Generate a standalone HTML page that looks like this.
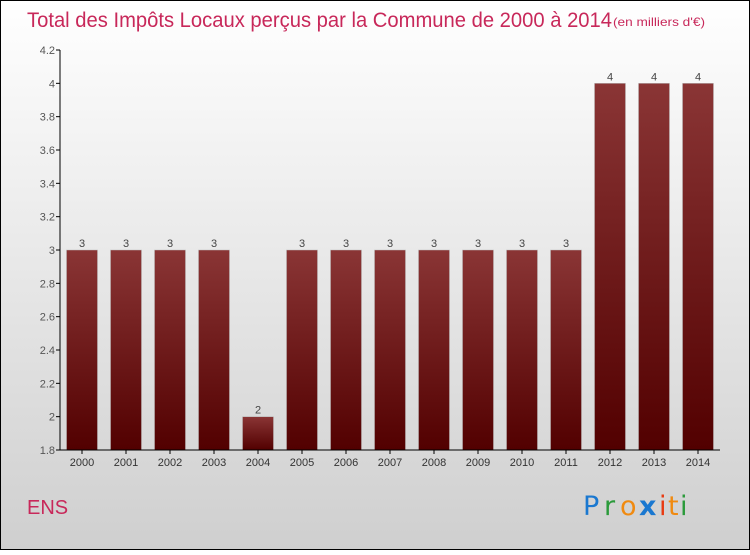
<!DOCTYPE html>
<html><head><meta charset="utf-8"><style>
html,body{margin:0;padding:0}
body{width:750px;height:550px;overflow:hidden;font-family:"Liberation Sans",sans-serif}
</style></head><body>
<svg id="chart" width="750" height="550" xmlns="http://www.w3.org/2000/svg">
<defs>
<linearGradient id="bg" x1="0" y1="0" x2="0" y2="1"><stop offset="0" stop-color="#ffffff"/><stop offset="1" stop-color="#cfcfcf"/></linearGradient>
<linearGradient id="bar" x1="0" y1="0" x2="0" y2="1"><stop offset="0" stop-color="#8a3535"/><stop offset="1" stop-color="#520000"/></linearGradient>
</defs>
<rect x="0.5" y="0.5" width="749" height="549" fill="url(#bg)" stroke="#000"/>
<text x="27" y="27" font-size="21" fill="#c8285a" textLength="585" lengthAdjust="spacingAndGlyphs">Total des Impôts Locaux perçus par la Commune de 2000 à 2014</text>
<text x="613" y="26" font-size="12" fill="#c8285a" textLength="92" lengthAdjust="spacingAndGlyphs">(en milliers d'€)</text>
<g id="plot"></g>
<text x="27" y="514" font-size="20" fill="#c8285a">ENS</text>
<g font-size="27" font-family="'DejaVu Sans',sans-serif">
<text x="583" y="515" fill="#1a78d0">P</text><text x="604" y="515" fill="#2a9a3a">r</text><text x="620" y="515" fill="#f08a10">o</text><text x="639" y="515" fill="#1a78d0" font-weight="bold">x</text><text x="659" y="515" fill="#e83a10">i</text><text x="668" y="515" fill="#f08a10">t</text><text x="680" y="515" fill="#2a9a3a">i</text>
</g>
</svg>
<script>
const years=["2000","2001","2002","2003","2004","2005","2006","2007","2008","2009","2010","2011","2012","2013","2014"];
const values=[3,3,3,3,2,3,3,3,3,3,3,3,4,4,4];
const ticks=[1.8,2,2.2,2.4,2.6,2.8,3,3.2,3.4,3.6,3.8,4,4.2];
const tickLabels=["1.8","2","2.2","2.4","2.6","2.8","3","3.2","3.4","3.6","3.8","4","4.2"];
const NS="http://www.w3.org/2000/svg";
const g=document.getElementById('plot');
const y=v=>450-(v-1.8)/(2.4)*400;
const x=i=>82+i*44;
function mk(t,a){const e=document.createElementNS(NS,t);for(const k in a)e.setAttribute(k,a[k]);g.appendChild(e);return e;}
ticks.forEach((t,i)=>{
 const l=mk('line',{x1:56,x2:60,y1:y(t),y2:y(t),stroke:'#000'});
 
 
 const tx=mk('text',{x:55,y:y(t)+4,'text-anchor':'end','font-size':11,fill:'#555'});
 tx.textContent=tickLabels[i];
 
 
});
years.forEach((yr,i)=>{
 const r=mk('rect',{x:x(i)-15.5,y:y(values[i]),width:31,height:450-y(values[i]),fill:'url(#bar)',stroke:'#bbb','stroke-width':0.5});
 
 
 const v=mk('text',{x:x(i),y:y(values[i])-3,'text-anchor':'middle','font-size':11,fill:'#444'});
 v.textContent=values[i];
 
 
 const xl=mk('text',{x:x(i),y:466,'text-anchor':'middle','font-size':11,fill:'#333'});
 xl.textContent=yr;
 
 
 const tk=mk('line',{x1:x(i),x2:x(i),y1:450,y2:454,stroke:'#000'});
 
 
});
const ya=mk('line',{x1:60,x2:60,y1:50,y2:450,stroke:'#000'});


const xa=mk('line',{x1:60,x2:720,y1:450,y2:450,stroke:'#000'});


</script>
</body></html>
